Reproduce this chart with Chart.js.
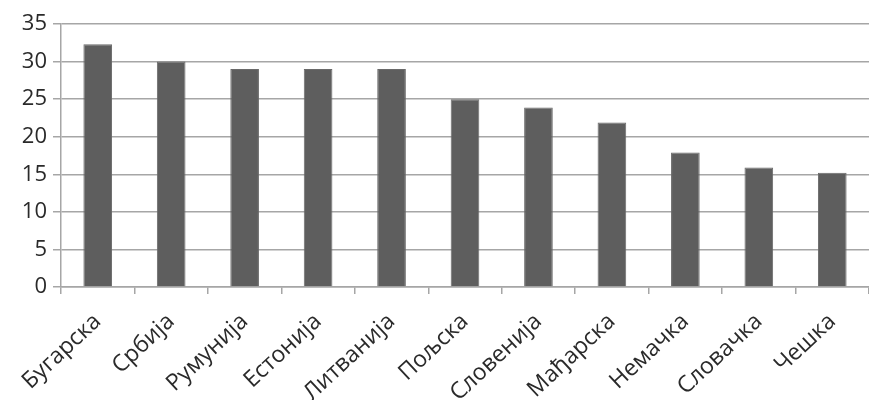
<!DOCTYPE html>
<html>
<head>
<meta charset="utf-8">
<script src="https://cdn.jsdelivr.net/npm/chart.js@4.4.1/dist/chart.umd.min.js"></script>
<style>
  html, body { margin: 0; padding: 0; background: #fff; }
  #wrap { width: 869px; height: 400px; position: relative; }
</style>
</head>
<body>
<div id="wrap"><canvas id="myChart"></canvas></div>
<script>
// countries, left to right
const countries = ['Бугарска', 'Србија', 'Румунија', 'Естонија', 'Литванија', 'Пољска',
    'Словенија', 'Мађарска', 'Немачка', 'Словачка', 'Чешка'];
const values = [32.3, 30, 29, 29, 29, 25, 23.9, 21.9, 17.9, 15.9, 15.2];
const yTicks = [0, 5, 10, 15, 20, 25, 30, 35];

const ctx = document.getElementById('myChart');

const chart = new Chart(ctx, {
    type: 'bar',
    data: {
        labels: countries,
        datasets: [{
            data: values,
            backgroundColor: '#5e5e5e',
            borderColor: '#6a6a6a',
            borderWidth: 1,
            barPercentage: 0.39,
            categoryPercentage: 1
        }]
    },
    options: {
        responsive: true,
        maintainAspectRatio: false,
        animation: false,
        layout: { padding: { top: 24, right: 0, left: 0, bottom: 0 } },
        plugins: {
            legend: { display: false },
            tooltip: { enabled: false }
        },
        scales: {
            x: {
                afterFit: function (axis) { axis.height = 113; },
                grid: {
                    offset: true,
                    drawOnChartArea: false,
                    drawTicks: true,
                    tickLength: 7,
                    color: '#a6a6a6',
                    lineWidth: 1.5
                },
                border: { color: '#a6a6a6', width: 1.5 },
                ticks: {
                    color: '#2a2a2a',
                    font: { family: 'Open Sans', size: 23 },
                    maxRotation: 43,
                    minRotation: 43,
                    padding: 14
                }
            },
            y: {
                min: 0,
                max: 35,
                afterFit: function (axis) { axis.width = 61; },
                afterBuildTicks: function (axis) {
                    axis.ticks = yTicks.map(v => ({ value: v }));
                },
                grid: {
                    color: '#a6a6a6',
                    lineWidth: 1.5,
                    tickLength: 8
                },
                border: { color: '#a6a6a6', width: 1.5 },
                ticks: {
                    color: '#2a2a2a',
                    font: { family: 'Open Sans', size: 22 },
                    padding: 6
                }
            }
        }
    }
});
</script>
</body>
</html>
